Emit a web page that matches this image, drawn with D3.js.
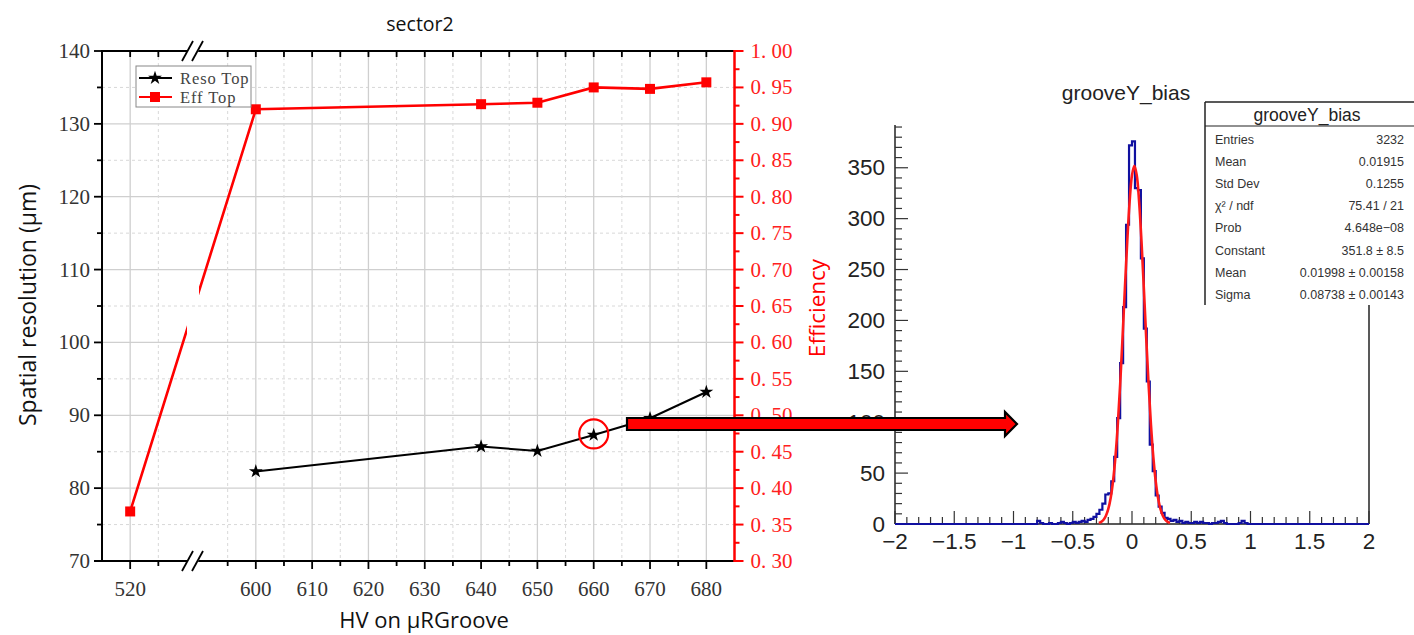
<!DOCTYPE html>
<html><head><meta charset="utf-8">
<script src="https://cdn.jsdelivr.net/npm/d3@7"></script>
<style>body{margin:0;background:#fff}svg{display:block}</style>
</head><body>
<svg id="c" width="1414" height="635"></svg>
<script>
// ---------- Left chart data ----------
const resoHV = [600, 640, 650, 660, 670, 680];
const resoTop = [82.3, 85.7, 85.1, 87.3, 89.6, 93.2];
const effHV = [520, 600, 640, 650, 660, 670, 680];
const effTop = [0.368, 0.920, 0.927, 0.929, 0.950, 0.948, 0.957];
const hvMajorTicks = [520, 600, 610, 620, 630, 640, 650, 660, 670, 680];
const hvMinorTicks = [525, 595, 605, 615, 625, 635, 645, 655, 665, 675];
const resoTicks = [70, 80, 90, 100, 110, 120, 130, 140];
const resoMinorTicks = [75, 85, 95, 105, 115, 125, 135];
const effTickLabels = ["0. 30","0. 35","0. 40","0. 45","0. 50","0. 55","0. 60","0. 65","0. 70","0. 75","0. 80","0. 85","0. 90","0. 95","1. 00"];
const effTicks = [0.30,0.35,0.40,0.45,0.50,0.55,0.60,0.65,0.70,0.75,0.80,0.85,0.90,0.95,1.00];
const legendNames = ["Reso Top", "Eff Top"];

// ---------- Histogram data (grooveY_bias), bins of 0.025 starting at -1.0 ----------
const histBinLowStart = -1.0;
const histBinWidth = 0.025;
const histCounts = [
  0,0,0,0,0,0,0,0, 3,1,0,0,1,0,0,1, 2,1,0,1,2,1,2,3,   // -1.000 .. -0.425
  2,4,5,7,10,14,20,29,30,42,66,104,158,213,294,372,    // -0.400 .. -0.025
  376,330,328,261,192,140,78,52,28,17,11,6,5,3,4,2,    // 0.000 .. 0.375
  3,1,2,1,1,2,1,2,1,1,0,1,1,2,3,1, 0,0,0,0,1,3,1,0     // 0.400 .. 0.975
];
const histXTicks = [-2,-1.5,-1,-0.5,0,0.5,1,1.5,2];
const histXTickLabels = ["\u22122","\u22121.5","\u22121","\u22120.5","0","0.5","1","1.5","2"];
const histYTicks = [0,50,100,150,200,250,300,350];
// Gaussian fit curve
const fitX = [-0.28,-0.26,-0.24,-0.22,-0.20,-0.18,-0.16,-0.14,-0.12,-0.10,-0.08,-0.06,-0.04,-0.02,0.00,0.02,0.04,0.06,0.08,0.10,0.12,0.14,0.16,0.18,0.20,0.22,0.24,0.26,0.28,0.30,0.32];
const fitY = [1.0,2.1,4.2,8.1,14.8,25.6,42.2,65.8,97.5,137.0,182.8,231.4,277.9,316.8,342.7,351.8,342.7,316.8,277.9,231.4,182.8,137.0,97.5,65.8,42.2,25.6,14.8,8.1,4.2,2.1,1.0];
const statsLabels = ["Entries","Mean","Std Dev","\u03C7\u00B2 / ndf","Prob","Constant","Mean","Sigma"];
const statsValues = ["3232","0.01915","0.1255","75.41 / 21","4.648e\u221208","351.8 \u00B1 8.5","0.01998 \u00B1 0.00158","0.08738 \u00B1 0.00143"];

const svg = d3.select("#c");
const serif = "'Liberation Serif', 'DejaVu Serif', serif";
const sans = "'Open Sans', 'Liberation Sans', sans-serif";
const helv = "'Liberation Sans', Arial, sans-serif";

// ---------- Left chart scales ----------
const L = 102, R = 734.5, T = 51, B = 561;
const x = d3.scaleLinear().domain([515, 530, 590, 685]).range([L, 186.5, 199.5, R]);
const yL = d3.scaleLinear().domain([70, 140]).range([B, T]);
const yR = d3.scaleLinear().domain([0.30, 1.00]).range([B, T]);

const g = svg.append("g");
// grid
resoMinorTicks.forEach(v => g.append("line").attr("x1", L).attr("x2", R).attr("y1", yL(v)).attr("y2", yL(v))
  .attr("stroke", "#d8d8d8").attr("stroke-dasharray", "3,3").attr("stroke-width", 1));
resoTicks.filter(v => v > 70 && v < 140).forEach(v => g.append("line").attr("x1", L).attr("x2", R).attr("y1", yL(v)).attr("y2", yL(v))
  .attr("stroke", "#cfcfcf").attr("stroke-width", 1.3));
hvMinorTicks.forEach(v => g.append("line").attr("x1", x(v)).attr("x2", x(v)).attr("y1", T).attr("y2", B)
  .attr("stroke", "#d8d8d8").attr("stroke-dasharray", "3,3").attr("stroke-width", 1));
hvMajorTicks.forEach(v => g.append("line").attr("x1", x(v)).attr("x2", x(v)).attr("y1", T).attr("y2", B)
  .attr("stroke", "#cfcfcf").attr("stroke-width", 1.3));

// axes lines
g.append("line").attr("x1", L).attr("x2", R).attr("y1", T).attr("y2", T).attr("stroke", "#000").attr("stroke-width", 2);
g.append("line").attr("x1", L - 8).attr("x2", R).attr("y1", B).attr("y2", B).attr("stroke", "#000").attr("stroke-width", 2);
g.append("line").attr("x1", L).attr("x2", L).attr("y1", T - 1).attr("y2", B + 1).attr("stroke", "#000").attr("stroke-width", 2);
// left ticks
[...resoTicks, ...resoMinorTicks].forEach(v => {
  const len = v % 10 === 0 ? 8 : 5;
  g.append("line").attr("x1", L - len).attr("x2", L).attr("y1", yL(v)).attr("y2", yL(v)).attr("stroke", "#000").attr("stroke-width", 1.8);
});
resoTicks.forEach(v => g.append("text").attr("x", L - 12).attr("y", yL(v)).attr("text-anchor", "end")
  .attr("dominant-baseline", "central").attr("font-family", serif).attr("font-size", 21).attr("fill", "#333").text(v));
// bottom / top ticks
[...hvMajorTicks, ...hvMinorTicks].forEach(v => {
  const len = v % 10 === 0 ? 8 : 5;
  g.append("line").attr("x1", x(v)).attr("x2", x(v)).attr("y1", B).attr("y2", B + len).attr("stroke", "#000").attr("stroke-width", 1.8);
  g.append("line").attr("x1", x(v)).attr("x2", x(v)).attr("y1", T).attr("y2", T + 6).attr("stroke", "#000").attr("stroke-width", 1.8);
});
hvMajorTicks.forEach(v => g.append("text").attr("x", x(v)).attr("y", 589).attr("text-anchor", "middle")
  .attr("dominant-baseline", "central").attr("font-family", serif).attr("font-size", 21).attr("fill", "#333").text(v));

// right red axis
g.append("line").attr("x1", R).attr("x2", R).attr("y1", T - 1).attr("y2", B + 1).attr("stroke", "#ff0000").attr("stroke-width", 2.5);
d3.range(0, 29).map(i => 0.30 + i * 0.025).forEach((v, i) => {
  const len = i % 2 === 0 ? 9 : 5;
  g.append("line").attr("x1", R).attr("x2", R + len).attr("y1", yR(v)).attr("y2", yR(v)).attr("stroke", "#ff0000").attr("stroke-width", 2);
});
effTicks.forEach((v, i) => g.append("text").attr("x", R + 16).attr("y", yR(v)).attr("dominant-baseline", "central")
  .attr("font-family", serif).attr("font-size", 21).attr("fill", "#ff2020").text(effTickLabels[i]));

// axis breaks
[T, B].forEach(yy => {
  g.append("polygon").attr("points", `${182},${yy + 10} ${193},${yy - 10} ${204},${yy - 10} ${193},${yy + 10}`).attr("fill", "#fff");
  g.append("line").attr("x1", 182).attr("y1", yy + 10).attr("x2", 193).attr("y2", yy - 10).attr("stroke", "#000").attr("stroke-width", 1.8);
  g.append("line").attr("x1", 192).attr("y1", yy + 10).attr("x2", 203).attr("y2", yy - 10).attr("stroke", "#000").attr("stroke-width", 1.8);
});

// clip for break gap in data line
const defs = svg.append("defs");
const cp = defs.append("clipPath").attr("id", "brk");
cp.append("rect").attr("x", 0).attr("y", 0).attr("width", 187).attr("height", 635);
cp.append("rect").attr("x", 199).attr("y", 0).attr("width", 600).attr("height", 635);

// Eff line
const effPts = effHV.map((h, i) => [x(h), yR(effTop[i])]);
g.append("path").attr("d", d3.line()(effPts)).attr("fill", "none").attr("stroke", "#ff0000").attr("stroke-width", 2.6).attr("clip-path", "url(#brk)");
// Reso line
const resoPts = resoHV.map((h, i) => [x(h), yL(resoTop[i])]);
g.append("path").attr("d", d3.line()(resoPts)).attr("fill", "none").attr("stroke", "#000").attr("stroke-width", 2);
const star = d3.symbol(d3.symbolStar, 60);
const sq = d3.symbol(d3.symbolSquare, 100);
effPts.forEach(p => g.append("path").attr("d", sq()).attr("transform", `translate(${p[0]},${p[1]})`).attr("fill", "#ff0000"));
resoPts.forEach(p => g.append("path").attr("d", star()).attr("transform", `translate(${p[0]},${p[1]})`).attr("fill", "#000"));

// legend
g.append("rect").attr("x", 136).attr("y", 66).attr("width", 115).attr("height", 41).attr("fill", "#fff").attr("stroke", "#888").attr("stroke-width", 1);
[[78, "#000", star], [97, "#ff0000", sq]].forEach((e, i) => {
  g.append("line").attr("x1", 139).attr("x2", 172).attr("y1", e[0]).attr("y2", e[0]).attr("stroke", e[1]).attr("stroke-width", 2.2);
  g.append("path").attr("d", e[2]()).attr("transform", `translate(155,${e[0]})`).attr("fill", e[1]);
  g.append("text").attr("x", 180).attr("y", e[0]).attr("dominant-baseline", "central").attr("font-family", serif)
    .attr("font-size", 16.5).attr("letter-spacing", 0.9).attr("fill", "#444").text(legendNames[i]);
});

// titles
svg.append("text").attr("x", 420).attr("y", 23).attr("text-anchor", "middle").attr("dominant-baseline", "central")
  .attr("font-family", sans).attr("font-size", 19.5).attr("fill", "#111").text("sector2");
svg.append("text").attr("x", 424).attr("y", 619).attr("text-anchor", "middle").attr("dominant-baseline", "central")
  .attr("font-family", sans).attr("font-size", 22).attr("fill", "#111").text("HV on \u03BCRGroove");
svg.append("text").attr("transform", "translate(27,305) rotate(-90)").attr("text-anchor", "middle").attr("dominant-baseline", "central")
  .attr("font-family", sans).attr("font-size", 23).attr("fill", "#111").text("Spatial resolution (\u03BCm)");
svg.append("text").attr("transform", "translate(816,308) rotate(-90)").attr("text-anchor", "middle").attr("dominant-baseline", "central")
  .attr("font-family", sans).attr("font-size", 22.5).attr("fill", "#ff0000").text("Efficiency");

// ---------- Histogram ----------
const HL = 895, HR = 1369, HT = 125, HB = 524;
const xH = d3.scaleLinear().domain([-2, 2]).range([HL, HR]);
const yH = d3.scaleLinear().domain([0, 392]).range([HB, HT]);
const h = svg.append("g");
svg.append("text").attr("x", 1126).attr("y", 92).attr("text-anchor", "middle").attr("dominant-baseline", "central")
  .attr("font-family", helv).attr("font-size", 21).attr("fill", "#222").text("grooveY_bias");

// axes
h.append("line").attr("x1", HL).attr("x2", HL).attr("y1", HT).attr("y2", HB).attr("stroke", "#222").attr("stroke-width", 1.5);
h.append("line").attr("x1", HL).attr("x2", HR).attr("y1", HB).attr("y2", HB).attr("stroke", "#222").attr("stroke-width", 1.5);
h.append("line").attr("x1", HR).attr("x2", HR).attr("y1", HT).attr("y2", HB).attr("stroke", "#222").attr("stroke-width", 1.5);
d3.range(0, 40).map(i => i * 10).forEach(v => {
  const len = v % 50 === 0 ? 13 : 7;
  h.append("line").attr("x1", HL).attr("x2", HL + len).attr("y1", yH(v)).attr("y2", yH(v)).attr("stroke", "#333").attr("stroke-width", 1.2);
});
histYTicks.forEach(v => h.append("text").attr("x", HL - 10).attr("y", yH(v)).attr("text-anchor", "end").attr("dominant-baseline", "central")
  .attr("font-family", helv).attr("font-size", 22.5).attr("fill", "#222").text(v));
d3.range(0, 41).map(i => -2 + i * 0.1).forEach((v, i) => {
  const len = i % 5 === 0 ? 13 : 7;
  h.append("line").attr("x1", xH(v)).attr("x2", xH(v)).attr("y1", HB).attr("y2", HB - len).attr("stroke", "#333").attr("stroke-width", 1.2);
});
histXTicks.forEach((v, i) => h.append("text").attr("x", xH(v)).attr("y", 541).attr("text-anchor", "middle").attr("dominant-baseline", "central")
  .attr("font-family", helv).attr("font-size", 22.5).attr("fill", "#222").text(histXTickLabels[i]));

// histogram step
const nFull = 160;
const full = d3.range(nFull).map(i => {
  const lo = -2 + i * histBinWidth;
  const k = Math.round((lo - histBinLowStart) / histBinWidth);
  return k >= 0 && k < histCounts.length ? histCounts[k] : 0;
});
const stepPts = full.map((c, i) => [xH(-2 + i * histBinWidth), yH(c)]);
stepPts.push([xH(2), yH(0)]);
h.append("path").attr("d", d3.line().curve(d3.curveStepAfter)(stepPts)).attr("fill", "none")
  .attr("stroke", "#1010a0").attr("stroke-width", 2.2);
// fit curve
h.append("path").attr("d", d3.line().curve(d3.curveCatmullRom)(fitX.map((v, i) => [xH(v), yH(fitY[i])])))
  .attr("fill", "none").attr("stroke", "#ff1a1a").attr("stroke-width", 2.6);

// stats box
const sb = svg.append("g");
sb.append("rect").attr("x", 1205).attr("y", 102).attr("width", 215).attr("height", 203).attr("fill", "#fff");
sb.append("line").attr("x1", 1205).attr("x2", 1205).attr("y1", 102).attr("y2", 305).attr("stroke", "#222").attr("stroke-width", 1.5);
sb.append("line").attr("x1", 1205).attr("x2", 1414).attr("y1", 102).attr("y2", 102).attr("stroke", "#222").attr("stroke-width", 1.5);
sb.append("line").attr("x1", 1205).attr("x2", 1414).attr("y1", 126).attr("y2", 126).attr("stroke", "#222").attr("stroke-width", 1.2);
sb.append("text").attr("x", 1307).attr("y", 115).attr("text-anchor", "middle").attr("dominant-baseline", "central")
  .attr("font-family", helv).attr("font-size", 17.5).attr("fill", "#222").text("grooveY_bias");
statsLabels.forEach((s, i) => {
  const yy = 140 + i * 22.1;
  sb.append("text").attr("x", 1215).attr("y", yy).attr("dominant-baseline", "central").attr("font-family", helv)
    .attr("font-size", 12.5).attr("fill", "#333").text(s);
  sb.append("text").attr("x", 1404).attr("y", yy).attr("text-anchor", "end").attr("dominant-baseline", "central").attr("font-family", helv)
    .attr("font-size", 12.5).attr("fill", "#333").text(statsValues[i]);
});

// ---------- annotations: circle and arrow ----------
svg.append("circle").attr("cx", x(660)).attr("cy", yL(resoTop[3]) - 1).attr("r", 14.5).attr("fill", "none")
  .attr("stroke", "#ff0000").attr("stroke-width", 2.2);
svg.append("path").attr("d", "M627,418 L1005,418 L1005,412 L1017,424 L1005,436 L1005,430 L627,430 Z")
  .attr("fill", "#ff0000").attr("stroke", "#000").attr("stroke-width", 2.2).attr("stroke-linejoin", "miter");
</script>
</body></html>
